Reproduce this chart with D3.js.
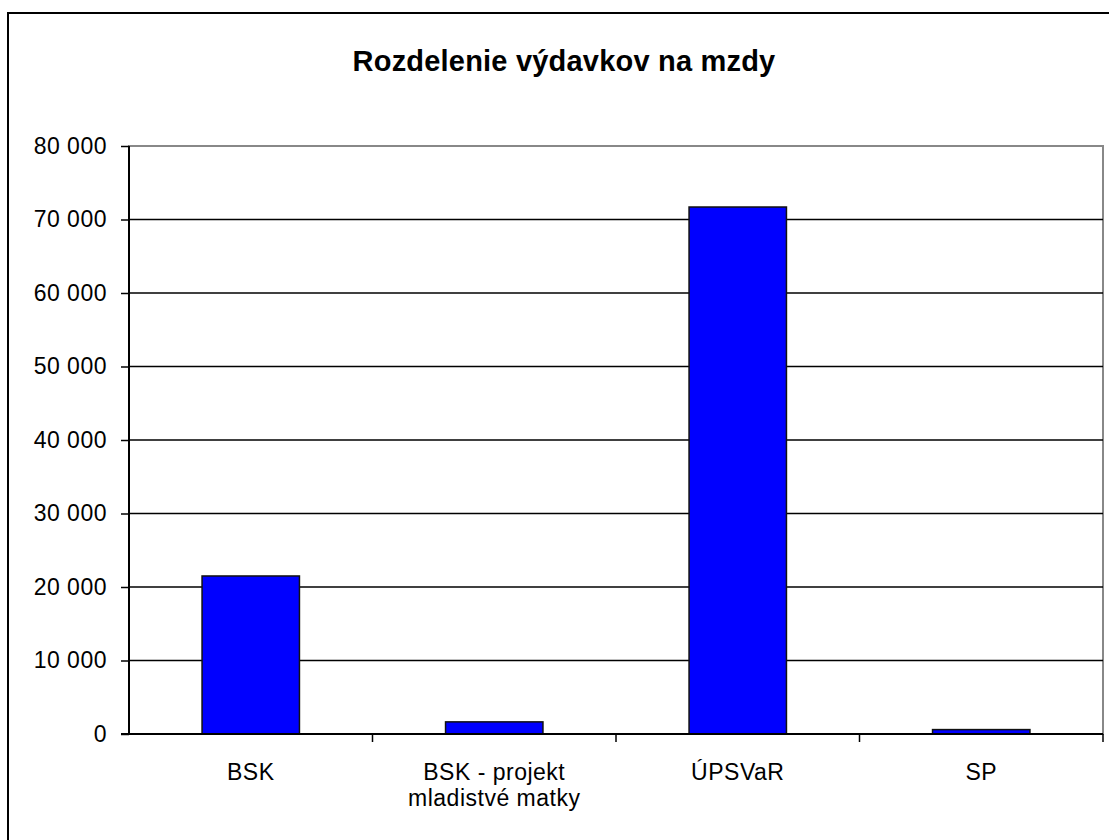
<!DOCTYPE html>
<html>
<head>
<meta charset="utf-8">
<script src="https://cdn.jsdelivr.net/npm/d3@7"></script>
<style>
  body { margin: 0; background: #fff; }
  text { font-family: "Liberation Sans", Arial, sans-serif; }
</style>
</head>
<body>
<div id="chart"></div>
<script>
// data
var categories = ["BSK", "BSK - projekt\nmladistvé matky", "ÚPSVaR", "SP"];
var values = [21500, 1650, 71700, 600];
var yTicks = [0, 10000, 20000, 30000, 40000, 50000, 60000, 70000, 80000];
var title = "Rozdelenie výdavkov na mzdy";

var svgWidth = 1109;
var svgHeight = 840;

var margin = { top: 146, right: 6, bottom: 106, left: 129 };
var width = svgWidth - margin.left - margin.right;
var height = svgHeight - margin.top - margin.bottom;

var svg = d3.select("#chart")
    .append("svg")
    .attr("width", svgWidth)
    .attr("height", svgHeight);

// outer chart border (only left and top are inside the window)
svg.append("rect")
    .attr("x", 8)
    .attr("y", 13)
    .attr("width", svgWidth + 20)
    .attr("height", svgHeight + 20)
    .attr("fill", "none")
    .attr("stroke", "#000")
    .attr("stroke-width", 2);

svg.append("text")
    .attr("x", 564)
    .attr("y", 71)
    .attr("text-anchor", "middle")
    .attr("font-size", "29px")
    .attr("font-weight", "bold")
    .attr("letter-spacing", "0.2px")
    .text(title);

var chartGroup = svg.append("g")
    .attr("transform", `translate(${margin.left}, ${margin.top})`);

var x = d3.scaleBand()
    .domain(categories)
    .range([0, width])
    .paddingInner(0.6)
    .paddingOuter(0.3);

var xOuter = d3.scaleBand()
    .domain(categories)
    .range([0, width]);

var y = d3.scaleLinear()
    .domain([0, 80000])
    .range([height, 0]);

var fmt = function(d) { return d3.format(",")(d).replace(/,/g, " "); };

// plot area border, grey
chartGroup.append("rect")
    .attr("x", 0)
    .attr("y", 0)
    .attr("width", width)
    .attr("height", height)
    .attr("fill", "none")
    .attr("stroke", "#888")
    .attr("stroke-width", 2);

// gridlines
chartGroup.selectAll(".grid")
    .data(yTicks.filter(d => d > 0 && d < 80000))
    .enter()
    .append("line")
    .attr("x1", 0)
    .attr("x2", width)
    .attr("y1", d => y(d))
    .attr("y2", d => y(d))
    .attr("stroke", "#000")
    .attr("stroke-width", 1.5);

// bars
chartGroup.selectAll(".bar")
    .data(values)
    .enter()
    .append("rect")
    .attr("x", (d, i) => x(categories[i]))
    .attr("y", d => y(d))
    .attr("width", x.bandwidth())
    .attr("height", d => height - y(d))
    .attr("fill", "#0000ff")
    .attr("stroke", "#111")
    .attr("stroke-width", 1.5);

// y axis
var leftAxis = d3.axisLeft(y)
    .tickValues(yTicks)
    .tickFormat(fmt)
    .tickSize(8)
    .tickPadding(14);

var yAxis = chartGroup.append("g").call(leftAxis);
yAxis.select(".domain").attr("stroke", "#000").attr("stroke-width", 2).attr("d", `M0,0V${height}`);
yAxis.selectAll(".tick line").attr("stroke-width", 1.5);
yAxis.selectAll("text")
    .attr("font-size", "23px")
    .attr("letter-spacing", "0.5px")
    .attr("fill", "#000")
    .style("font-family", "\"Liberation Sans\", Arial, sans-serif");

// x axis line
chartGroup.append("line")
    .attr("x1", -8)
    .attr("x2", width)
    .attr("y1", height)
    .attr("y2", height)
    .attr("stroke", "#000")
    .attr("stroke-width", 2);

// x category ticks between categories
chartGroup.selectAll(".xtick")
    .data(categories.slice(1).concat(["end"]))
    .enter()
    .append("line")
    .attr("x1", (d, i) => i < categories.length - 1 ? xOuter(d) : width)
    .attr("x2", (d, i) => i < categories.length - 1 ? xOuter(d) : width)
    .attr("y1", height)
    .attr("y2", height + 8)
    .attr("stroke", "#000")
    .attr("stroke-width", 1.5);

// x labels
var xLabels = chartGroup.selectAll(".xlabel")
    .data(categories)
    .enter()
    .append("text")
    .attr("text-anchor", "middle")
    .attr("font-size", "23px")
    .attr("letter-spacing", "0.5px")
    .attr("fill", "#000")
    .attr("transform", d => `translate(${xOuter(d) + xOuter.bandwidth() / 2}, ${height + 46})`);

xLabels.selectAll("tspan")
    .data(d => d.split("\n"))
    .enter()
    .append("tspan")
    .attr("x", 0)
    .attr("dy", (d, i) => i === 0 ? 0 : 26)
    .text(d => d);
</script>
</body>
</html>
